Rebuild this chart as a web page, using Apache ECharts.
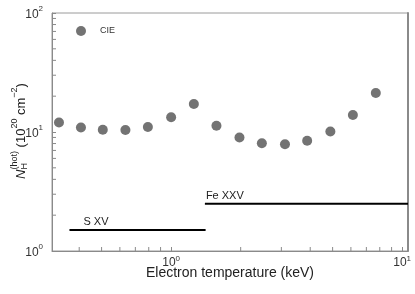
<!DOCTYPE html>
<html><head><meta charset="utf-8">
<script src="https://cdn.jsdelivr.net/npm/echarts@6/dist/echarts.min.js"></script>
<style>html,body{margin:0;padding:0;background:#fff}#c{width:415px;height:294px}</style>
</head><body><div id="c"></div>
<script>
// ---- data ----
const temperatures = [0.327, 0.407, 0.506, 0.634, 0.793, 1.0, 1.254, 1.571, 1.976, 2.47, 3.11, 3.88, 4.89, 6.12, 7.69];
const columnDensity = [12.0, 10.9, 10.45, 10.4, 11.0, 13.3, 17.2, 11.3, 9.0, 8.05, 7.9, 8.45, 10.1, 13.9, 21.3];
const seriesName = 'CIE';
const ionNames = ['S XV', 'Fe XXV'];
const ionTStart = [0.363, 1.40];
const ionTEnd = [1.41, 10.6];
const ionLevel = [1.5, 2.5];
const xMinorTicks = [0.4, 0.5, 0.6, 0.7, 0.8, 0.9, 2, 3, 4, 5, 6, 7, 8, 9];
const yMinorTicks = [2, 3, 4, 5, 6, 7, 8, 9, 20, 30, 40, 50, 60, 70, 80, 90];
const xRange = [0.305, 10.6];
const yRange = [1, 100];
const xTitle = 'Electron temperature (keV)';

// ---- rendering ----
const FONT = 'Liberation Sans, Arial, sans-serif';
const TXT = '#333';
const AX = '#8a8a8a';
const chart = echarts.init(document.getElementById('c'), null, {renderer: 'canvas'});

function powLabel(v) {
  const e = Math.log10(v), r = Math.round(e);
  if (Math.abs(e - r) > 1e-6) return '';
  return '{b|10}{s|' + r + '}';
}
const richX = {
  b: {fontSize: 12, fontFamily: FONT, color: TXT, lineHeight: 14, verticalAlign: 'bottom'},
  s: {fontSize: 8, fontFamily: FONT, color: TXT, lineHeight: 6, verticalAlign: 'top'}
};
const richY = {
  b: {fontSize: 12, fontFamily: FONT, color: TXT, lineHeight: 16, verticalAlign: 'bottom'},
  s: {fontSize: 8, fontFamily: FONT, color: TXT, lineHeight: 6, verticalAlign: 'top'}
};

// y-axis title pieces (real text) measured with canvas
const mctx = document.createElement('canvas').getContext('2d');
function w(t, f) { mctx.font = f; return mctx.measureText(t).width; }
const big = '13px ' + FONT, small = '9px ' + FONT, ital = 'italic 13px ' + FONT;
const pieces = [
  [{t: 'N', f: ital, dy: 0}],
  [{t: '(hot)', f: small, dy: -6}, {t: 'H', f: small, dy: 4}],
  [{t: ' (10', f: big, dy: 0}],
  [{t: '20', f: small, dy: -6}],
  [{t: ' cm', f: big, dy: 0}],
  [{t: '\u22122', f: small, dy: -6}],
  [{t: ')', f: big, dy: 0}]
];
let total = 0;
pieces.forEach(p => { total += Math.max.apply(null, p.map(q => w(q.t, q.f))); });
let cx = -total / 2;
const titleChildren = [];
pieces.forEach(p => {
  let mw = 0;
  p.forEach(q => {
    titleChildren.push({type: 'text', x: cx, y: q.dy,
      style: {text: q.t, font: q.f, fill: '#222', align: 'left', verticalAlign: 'middle'}});
    mw = Math.max(mw, w(q.t, q.f));
  });
  cx += mw;
});

const labelDx = [14, 1];

const option = {
  animation: false,
  backgroundColor: '#fff',
  grid: {left: 52, right: 7, top: 13, bottom: 43, containLabel: false,
         show: true, borderColor: '#9a9a9a', borderWidth: 1, backgroundColor: 'transparent'},
  legend: {
    show: true, data: [seriesName], left: 71, top: 21, itemWidth: 10, itemHeight: 10,
    icon: 'circle', textStyle: {fontSize: 9, fontFamily: FONT, color: TXT, padding: [0, 0, 0, 9]}
  },
  xAxis: [{
    type: 'log', logBase: 10, min: xRange[0], max: xRange[1],
    name: xTitle, nameLocation: 'middle', nameGap: 15, nameMoveOverlap: false,
    nameTextStyle: {fontSize: 14, fontFamily: FONT, color: '#222'},
    axisLine: {show: true, onZero: false, lineStyle: {color: AX, width: 1}},
    axisTick: {show: true, inside: true, length: 4, lineStyle: {color: AX}},
    axisLabel: {formatter: powLabel, rich: richX, margin: 4, showMinLabel: false, showMaxLabel: false, hideOverlap: false},
    splitLine: {show: false}, minorTick: {show: false}
  }],
  yAxis: [{
    type: 'log', logBase: 10, min: yRange[0], max: yRange[1],
    axisLine: {show: true, onZero: false, lineStyle: {color: AX, width: 1}},
    axisTick: {show: true, inside: true, length: 4, lineStyle: {color: AX}},
    axisLabel: {formatter: powLabel, rich: richY, margin: 9, hideOverlap: false},
    splitLine: {show: false}
  }, {
    type: 'log', logBase: 10, min: yRange[0], max: yRange[1], position: 'right',
    axisLine: {show: true, lineStyle: {color: '#8a8a8a', width: 2}},
    axisTick: {show: false}, axisLabel: {show: false}, splitLine: {show: false}
  }],
  graphic: [{type: 'group', x: 21, y: 131, rotation: Math.PI / 2, children: titleChildren}],
  series: [
    {
      name: seriesName, type: 'scatter', symbol: 'circle', symbolSize: 10,
      itemStyle: {color: '#737373', opacity: 1},
      data: temperatures.map((t, i) => [t, columnDensity[i]])
    },
    ...ionNames.map((n, i) => ({
      name: n, type: 'line', symbol: 'none', silent: true,
      lineStyle: {color: '#000', width: 2},
      data: [[ionTStart[i], ionLevel[i]], [ionTEnd[i], ionLevel[i]]]
    })),
    {
      type: 'custom', silent: true,
      data: ionNames.map((n, i) => [ionTStart[i], ionLevel[i], i]),
      renderItem: function (params, api) {
        const p = api.coord([api.value(0), api.value(1)]);
        const i = api.value(2);
        return {type: 'text', x: p[0] + labelDx[i], y: p[1] - 8,
          style: {text: ionNames[i], font: '11px ' + FONT, fill: '#222', align: 'left', verticalAlign: 'middle'}};
      }
    },
    {
      type: 'custom', silent: true, clip: false,
      data: xMinorTicks.map(v => [v, yRange[0]]),
      renderItem: function (params, api) {
        const p = api.coord([api.value(0), api.value(1)]);
        return {type: 'line', shape: {x1: p[0], y1: p[1], x2: p[0], y2: p[1] - 4},
          style: {stroke: AX, lineWidth: 1}};
      }
    },
    {
      type: 'custom', silent: true, clip: false,
      data: yMinorTicks.map(v => [xRange[0], v]),
      renderItem: function (params, api) {
        const p = api.coord([api.value(0), api.value(1)]);
        return {type: 'line', shape: {x1: p[0], y1: p[1], x2: p[0] + 4, y2: p[1]},
          style: {stroke: AX, lineWidth: 1}};
      }
    }
  ]
};
chart.setOption(option);
</script>
</body></html>
